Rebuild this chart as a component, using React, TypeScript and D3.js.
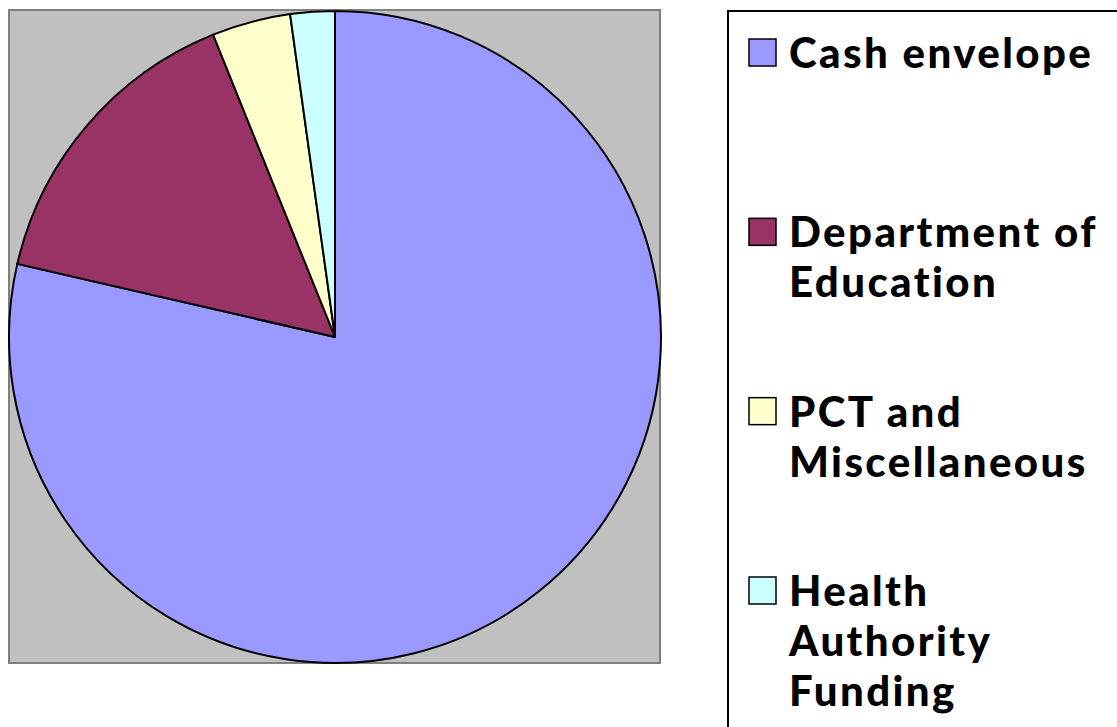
import React from "react";
import * as d3 from "d3";

const categories = ["Cash envelope", "Department of Education", "PCT and Miscellaneous", "Health Authority Funding"];
const values = [78.6, 15.3, 3.9, 2.2];
const colors = ["#9999FF", "#993366", "#FFFFCC", "#CCFFFF"];
const legendLines = [["Cash envelope"], ["Department of", "Education"], ["PCT and", "Miscellaneous"], ["Health", "Authority", "Funding"]];

export default function App() {
  const W = 1117, H = 727;
  const plot = { x: 9, y: 10, w: 651, h: 653 };
  const cx = 335, cy = 337, r = 326;
  const pie = d3.pie<number>().sort(null).value((d) => d);
  const arcs = pie(values);
  const arc = d3.arc<d3.PieArcDatum<number>>().innerRadius(0).outerRadius(r);
  const entryY = d3.scaleLinear().domain([0, 3]).range([52, 590]);
  const font = "'Lato', 'Gill Sans', sans-serif";
  return (
    <svg width={W} height={H} style={{ position: "absolute", left: 0, top: 0 }}>
      <rect x={plot.x} y={plot.y} width={plot.w} height={plot.h} fill="#C0C0C0" stroke="#808080" strokeWidth={2} />
      <g transform={`translate(${cx},${cy})`}>
        {arcs.map((a, i) => (
          <path key={i} d={arc(a) || ""} fill={colors[i]} stroke="#000" strokeWidth={2} strokeLinejoin="round" />
        ))}
      </g>
      <rect x={728} y={11} width={420} height={740} fill="#fff" stroke="#000" strokeWidth={2} />
      {categories.map((c, i) => {
        const y = entryY(i);
        return (
          <g key={c}>
            <rect x={749} y={y - 13} width={27} height={27} fill={colors[i]} stroke="#000" strokeWidth={1.5} />
            <text x={789} y={y + 16} fontFamily={font} fontWeight={900} fontSize={42} letterSpacing={2.4} fill="#000">
              {legendLines[i].map((l, j) => (
                <tspan key={j} x={789} dy={j === 0 ? 0 : 50}>{l}</tspan>
              ))}
            </text>
          </g>
        );
      })}
    </svg>
  );
}
